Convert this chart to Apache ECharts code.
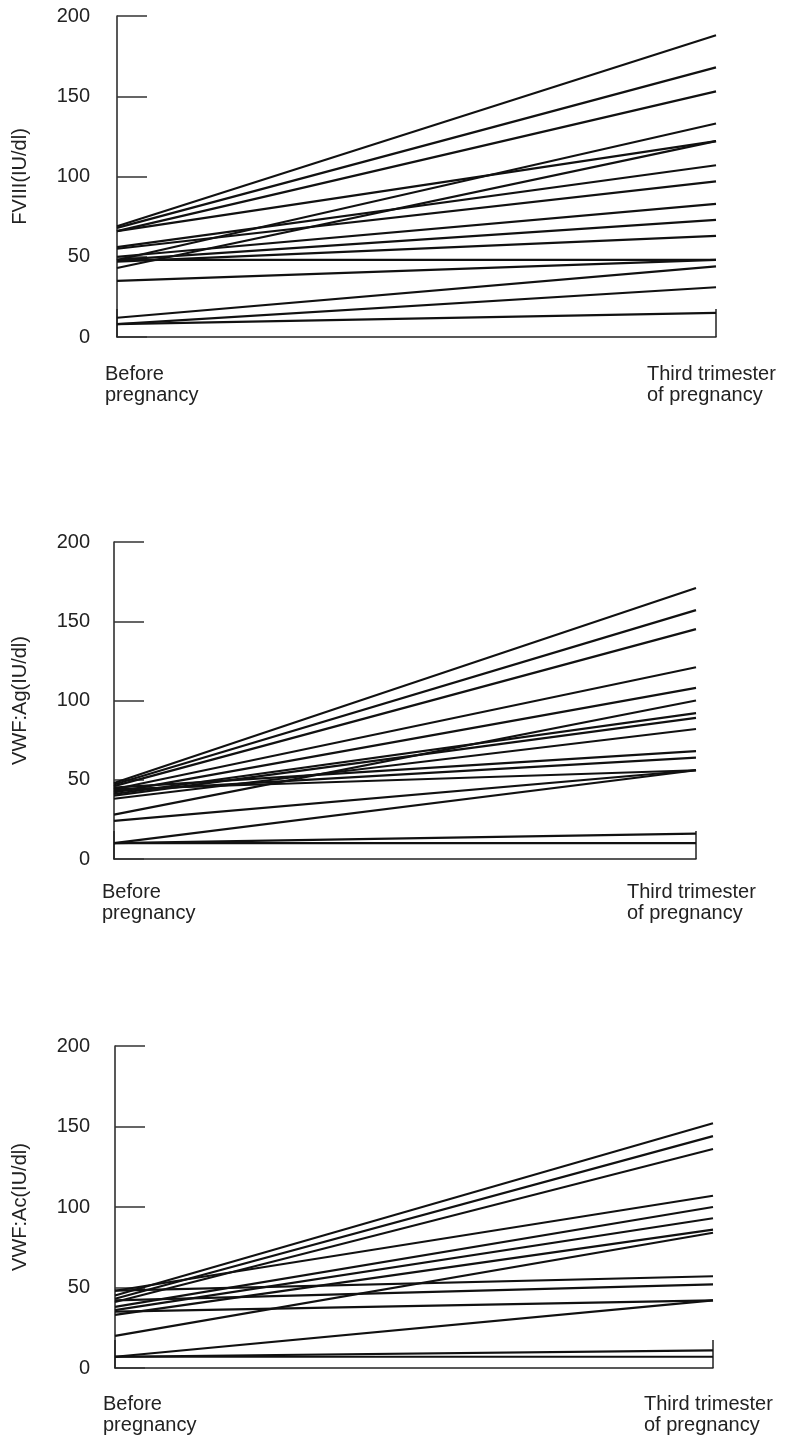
<!DOCTYPE html>
<html>
<head>
<meta charset="utf-8">
<script src="https://cdn.jsdelivr.net/npm/echarts@6/dist/echarts.min.js"></script>
<style>html,body{margin:0;padding:0;background:#fff}#c{width:794px;height:1450px}</style>
</head>
<body>
<div id="c"></div>
<script>
const categories = ['Before\npregnancy', 'Third trimester\nof pregnancy'];
const yTicks = [0, 50, 100, 150, 200];
const yNames = ['FVIII(IU/dl)', 'VWF:Ag(IU/dl)', 'VWF:Ac(IU/dl)'];

const fviiiBefore = [69, 68, 66, 66, 48, 43, 56, 55, 50, 48, 47, 48, 35, 12, 8, 8];
const fviiiThird  = [188, 168, 153, 122, 133, 122, 107, 97, 83, 73, 63, 48, 48, 44, 31, 15];

const vwfAgBefore = [48, 47, 46, 44, 42, 28, 41, 40, 38, 45, 43, 44, 24, 10, 10, 10];
const vwfAgThird  = [171, 157, 145, 121, 108, 100, 92, 89, 82, 68, 64, 56, 56, 56, 16, 10];

const vwfAcBefore = [45, 43, 41, 48, 38, 36, 33, 20, 48, 42, 35, 7, 7, 7];
const vwfAcThird  = [152, 144, 136, 107, 100, 93, 86, 84, 57, 52, 42, 42, 11, 7];

const panels = [
  {before: fviiiBefore, third: fviiiThird},
  {before: vwfAgBefore, third: vwfAgThird},
  {before: vwfAcBefore, third: vwfAcThird}
];

const FONT = 'Liberation Sans, Arial, Helvetica, sans-serif';
const grids = [
  {left: 117, right: 78, top: 16, height: 321},
  {left: 114, right: 98, top: 542, height: 317},
  {left: 115, right: 81, top: 1046, height: 322}
];
const xMargins = [27, 23, 26];
const yMargins = [27, 24, 25];
const nameGaps = [87, 84, 85];

const xAxis = grids.map((g, i) => ({
  type: 'category', gridIndex: i, data: categories, boundaryGap: false,
  axisLine: {lineStyle: {color: '#222', width: 1.5}},
  axisTick: {inside: true, length: 28, lineStyle: {color: '#222', width: 1.5}},
  axisLabel: {
    margin: xMargins[i], color: '#222', fontFamily: FONT, fontSize: 20, lineHeight: 21,
    formatter: function (v, idx) {
      const parts = v.split('\n');
      const key = idx === 0 ? 'a' : 'b';
      return parts.map(p => '{' + key + '|' + p + '}').join('\n');
    },
    rich: {
      a: {width: 24, align: 'left', fontFamily: FONT, fontSize: 20, lineHeight: 21, color: '#222'},
      b: {width: 138, align: 'left', fontFamily: FONT, fontSize: 20, lineHeight: 21, color: '#222'}
    }
  },
  splitLine: {show: false}
}));

const yAxis = grids.map((g, i) => ({
  type: 'value', gridIndex: i, min: 0, max: 200, interval: 50,
  name: yNames[i], nameLocation: 'middle', nameGap: nameGaps[i],
  nameTextStyle: {fontFamily: FONT, fontSize: 20, color: '#222'},
  axisLine: {show: true, lineStyle: {color: '#222', width: 1.5}},
  axisTick: {show: true, inside: true, length: 30, lineStyle: {color: '#333', width: 1.5}},
  axisLabel: {margin: yMargins[i], color: '#222', fontFamily: FONT, fontSize: 20,
    formatter: v => yTicks.includes(v) ? String(v) : ''},
  splitLine: {show: false}
}));

const series = [];
panels.forEach((p, i) => {
  p.before.forEach((b, k) => {
    series.push({
      type: 'line', xAxisIndex: i, yAxisIndex: i,
      data: [b, p.third[k]],
      showSymbol: false, symbol: 'none', silent: true,
      lineStyle: {color: '#111', width: 2.2},
      animation: false
    });
  });
});

const chart = echarts.init(document.getElementById('c'), null, {renderer: 'canvas'});
chart.setOption({
  animation: false,
  backgroundColor: '#fff',
  grid: grids,
  xAxis: xAxis,
  yAxis: yAxis,
  series: series
});
</script>
</body>
</html>
